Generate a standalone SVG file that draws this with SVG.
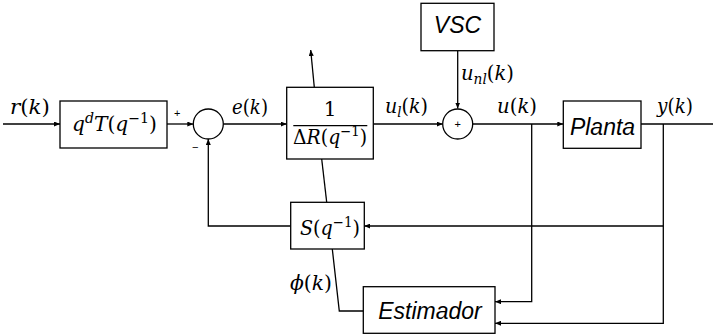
<svg xmlns="http://www.w3.org/2000/svg" width="713" height="336" viewBox="0 0 713 336">
<defs>
<marker id="ah" markerWidth="6" markerHeight="5" refX="6" refY="2.5" orient="auto" markerUnits="userSpaceOnUse">
<path d="M0,0 L6,2.5 L0,5 z" fill="#000"/>
</marker>
<style>
.box{fill:#fff;stroke:#000;stroke-width:1.3}
.ln{fill:none;stroke:#000;stroke-width:1.3}
.ar{fill:none;stroke:#000;stroke-width:1.3;marker-end:url(#ah)}
.m{font-family:"DejaVu Serif","Liberation Serif",serif;font-size:20px;fill:#000}
.v{font-style:italic}
.s{font-family:"Liberation Sans",Arial,sans-serif;font-style:italic;font-size:23px;fill:#000}
.sg{font-family:"Liberation Sans",Arial,sans-serif;font-size:11px;fill:#000}
</style>
</defs>
<rect width="713" height="336" fill="#fff"/>
<g id="connectors">
<line class="ar" x1="3" y1="124" x2="60" y2="124"/>
<line class="ar" x1="167" y1="124" x2="193.3" y2="124"/>
<line class="ar" x1="223.3" y1="124" x2="286.7" y2="124"/>
<line class="ar" x1="373.3" y1="124" x2="442.7" y2="124"/>
<line class="ar" x1="457.7" y1="50.7" x2="457.7" y2="108.5"/>
<line class="ar" x1="472.7" y1="124" x2="563.3" y2="124"/>
<line class="ln" x1="641" y1="124" x2="713" y2="124"/>
<line class="ar" x1="314.3" y1="87.3" x2="310.7" y2="50"/>
<line class="ln" x1="321.7" y1="159" x2="326.7" y2="202.3"/>
<polyline class="ar" points="290.7,226 208.3,226 208.3,139"/>
<line class="ar" x1="663.3" y1="226" x2="364.3" y2="226"/>
<polyline class="ar" points="531.7,124 531.7,301.7 495,301.7"/>
<polyline class="ar" points="663.3,124 663.3,323.3 495,323.3"/>
<polyline class="ln" points="332.3,249 339.3,311 363.3,311"/>
</g>
<g id="labels">
<text class="m" x="10" y="114" textLength="40" lengthAdjust="spacingAndGlyphs"><tspan class="v">r</tspan>(<tspan class="v">k</tspan>)</text>
<text class="sg" x="174" y="117">+</text>
<text class="sg" x="192" y="151">−</text>
<text class="m" x="232" y="114" textLength="36" lengthAdjust="spacingAndGlyphs"><tspan class="v">e</tspan>(<tspan class="v">k</tspan>)</text>
<text class="m" x="385" y="113" textLength="43" lengthAdjust="spacingAndGlyphs"><tspan class="v">u</tspan><tspan class="v" font-size="14" dy="4">l</tspan><tspan dy="-4">(</tspan><tspan class="v">k</tspan>)</text>
<text class="m" x="461" y="80" textLength="53" lengthAdjust="spacingAndGlyphs"><tspan class="v">u</tspan><tspan class="v" font-size="14" dy="4">nl</tspan><tspan dy="-4">(</tspan><tspan class="v">k</tspan>)</text>
<text class="m" x="497" y="113" textLength="40" lengthAdjust="spacingAndGlyphs"><tspan class="v">u</tspan>(<tspan class="v">k</tspan>)</text>
<text class="m" x="657" y="113" textLength="36" lengthAdjust="spacingAndGlyphs"><tspan class="v">y</tspan>(<tspan class="v">k</tspan>)</text>
<text class="m" x="290" y="290" textLength="42" lengthAdjust="spacingAndGlyphs"><tspan class="v">ϕ</tspan>(<tspan class="v">k</tspan>)</text>
</g>
<g id="T">
<rect class="box" x="60" y="101" width="107" height="47"/>
<text class="m" x="72" y="131" textLength="85" lengthAdjust="spacingAndGlyphs"><tspan class="v">q</tspan><tspan class="v" font-size="14" dy="-8">d</tspan><tspan class="v" dy="8">T</tspan>(<tspan class="v">q</tspan><tspan font-size="14" dy="-8">−1</tspan><tspan dy="8">)</tspan></text>
</g>
<g id="sum1">
<circle class="box" cx="208.3" cy="124" r="15"/>
</g>
<g id="R">
<rect class="box" x="286.7" y="87.3" width="86.6" height="71.7"/>
<text class="m" x="330" y="116" text-anchor="middle">1</text>
<line class="ln" x1="293.3" y1="125.7" x2="367.3" y2="125.7"/>
<text class="m" x="293" y="144" textLength="74" lengthAdjust="spacingAndGlyphs">Δ<tspan class="v">R</tspan>(<tspan class="v">q</tspan><tspan font-size="14" dy="-8">−1</tspan><tspan dy="8">)</tspan></text>
</g>
<g id="VSC">
<rect class="box" x="421" y="3.3" width="73" height="47.4"/>
<text class="s" x="457.5" y="33" text-anchor="middle">VSC</text>
</g>
<g id="sum2">
<circle class="box" cx="457.7" cy="124" r="15"/>
<text class="sg" x="457.7" y="128" text-anchor="middle">+</text>
</g>
<g id="Planta">
<rect class="box" x="563.3" y="101" width="77.7" height="47.3"/>
<text class="s" x="602.5" y="135" text-anchor="middle">Planta</text>
</g>
<g id="S">
<rect class="box" x="290.7" y="202.3" width="73.6" height="46.7"/>
<text class="m" x="300" y="235" textLength="60" lengthAdjust="spacingAndGlyphs"><tspan class="v">S</tspan>(<tspan class="v">q</tspan><tspan font-size="14" dy="-8">−1</tspan><tspan dy="8">)</tspan></text>
</g>
<g id="Estimador">
<rect class="box" x="363.3" y="286.7" width="131.7" height="46.6"/>
<text class="s" x="430" y="319" text-anchor="middle">Estimador</text>
</g>
</svg>
